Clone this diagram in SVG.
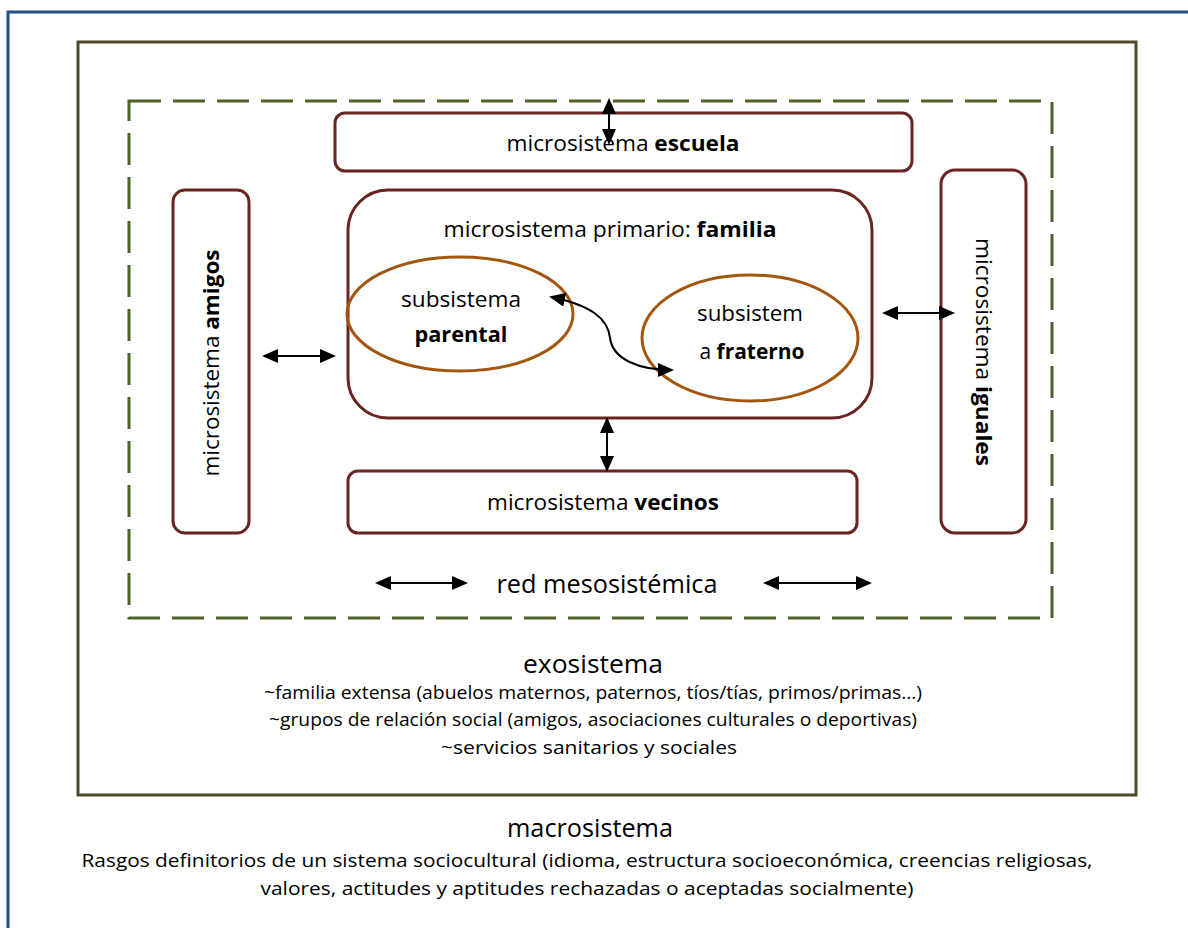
<svg xmlns="http://www.w3.org/2000/svg" width="1188" height="928" viewBox="0 0 1188 928">
  <defs>
    <marker id="head" viewBox="0 0 16 14" refX="14" refY="7" markerWidth="8" markerHeight="7" markerUnits="strokeWidth" orient="auto-start-reverse">
      <path d="M0 0 L16 7 L0 14 Z" fill="#000"/>
    </marker>
    <style>
      text { font-family: "Open Sans", "Liberation Sans", sans-serif; fill: #000; }
      .box { fill: #fff; stroke: #6b2424; stroke-width: 3; }
      .ell { fill: none; stroke: #a3560f; stroke-width: 3; }
      .arrow { fill: none; stroke: #000; stroke-width: 2; marker-start: url(#head); marker-end: url(#head); }
      .lbl { font-size: 21px; text-anchor: middle; }
      .big { font-size: 26px; text-anchor: middle; }
      .small { font-size: 19px; text-anchor: middle; }
      .b { font-weight: bold; }
    </style>
  </defs>

  <rect width="1188" height="928" fill="#fff"/>

  <!-- page frame -->
  <path d="M8 928 V12 H1188" fill="none" stroke="#1f4e85" stroke-width="3"/>

  <!-- exosystem frame -->
  <g id="exosistema">
    <rect x="78" y="42" width="1058" height="753" fill="none" stroke="#4d4a2c" stroke-width="3"/>
    <text class="big" x="593" y="673" textLength="140" lengthAdjust="spacingAndGlyphs">exosistema</text>
    <text class="small" x="593" y="699" textLength="658" lengthAdjust="spacingAndGlyphs">~familia extensa (abuelos maternos, paternos, tíos/tías, primos/primas…)</text>
    <text class="small" x="593" y="726" textLength="648" lengthAdjust="spacingAndGlyphs">~grupos de relación social (amigos, asociaciones culturales o deportivas)</text>
    <text class="small" x="589" y="754" textLength="296" lengthAdjust="spacingAndGlyphs">~servicios sanitarios y sociales</text>
  </g>

  <!-- mesosystem network -->
  <g id="mesosistema">
    <rect x="129" y="101" width="923" height="517" fill="none" stroke="#4f6228" stroke-width="3" stroke-dasharray="32 12"/>
    <text class="big" x="607" y="593" textLength="221" lengthAdjust="spacingAndGlyphs">red mesosistémica</text>
  </g>

  <g id="escuela">
    <rect class="box" x="335" y="113" width="577" height="58" rx="10"/>
    <text class="lbl" x="623" y="151" textLength="233" lengthAdjust="spacingAndGlyphs">microsistema <tspan class="b">escuela</tspan></text>
  </g>

  <g id="amigos">
    <rect class="box" x="173" y="190" width="76" height="343" rx="12"/>
    <text class="lbl" transform="translate(219 363) rotate(-90)" x="0" y="0" textLength="227" lengthAdjust="spacingAndGlyphs">microsistema <tspan class="b">amigos</tspan></text>
  </g>

  <g id="iguales">
    <rect class="box" x="941" y="170" width="85" height="363" rx="14"/>
    <text class="lbl" transform="translate(976 352) rotate(90)" x="0" y="0" textLength="228" lengthAdjust="spacingAndGlyphs">microsistema <tspan class="b">iguales</tspan></text>
  </g>

  <g id="familia">
    <rect class="box" x="348" y="190" width="524" height="228" rx="40"/>
    <text class="lbl" x="610" y="237" textLength="333" lengthAdjust="spacingAndGlyphs">microsistema primario: <tspan class="b">familia</tspan></text>
  </g>

  <g id="parental">
    <ellipse class="ell" cx="460" cy="314" rx="113" ry="57"/>
    <text class="lbl" x="461" y="307" textLength="120" lengthAdjust="spacingAndGlyphs">subsistema</text>
    <text class="lbl b" x="461" y="342" textLength="93" lengthAdjust="spacingAndGlyphs">parental</text>
  </g>

  <g id="fraterno">
    <ellipse class="ell" cx="750" cy="338" rx="108" ry="63"/>
    <text class="lbl" x="750" y="321" textLength="106" lengthAdjust="spacingAndGlyphs">subsistem</text>
    <text class="lbl" x="752" y="359" textLength="105" lengthAdjust="spacingAndGlyphs">a <tspan class="b">fraterno</tspan></text>
  </g>

  <g id="vecinos">
    <rect class="box" x="348" y="471" width="509" height="62" rx="10"/>
    <text class="lbl" x="603" y="510" textLength="232" lengthAdjust="spacingAndGlyphs">microsistema <tspan class="b">vecinos</tspan></text>
  </g>

  <!-- connectors -->
  <g id="connectors">
    <line class="arrow" x1="609" y1="100" x2="609" y2="143"/>
    <line class="arrow" x1="607" y1="419" x2="607" y2="470"/>
    <line class="arrow" x1="264" y1="356" x2="334" y2="356"/>
    <line class="arrow" x1="884" y1="313" x2="953" y2="313"/>
    <line class="arrow" x1="377" y1="583" x2="466" y2="583"/>
    <line class="arrow" x1="765" y1="583" x2="870" y2="583"/>
    <path class="arrow" d="M551 297 C590 305 608 318 610 338 C613 360 640 370 672 370"/>
  </g>

  <!-- macrosystem -->
  <g id="macrosistema">
    <text class="big" x="590" y="837" textLength="166" lengthAdjust="spacingAndGlyphs">macrosistema</text>
    <text class="small" x="587" y="867" textLength="1011" lengthAdjust="spacingAndGlyphs">Rasgos definitorios de un sistema sociocultural (idioma, estructura socioeconómica, creencias religiosas,</text>
    <text class="small" x="587" y="895" textLength="653" lengthAdjust="spacingAndGlyphs">valores, actitudes y aptitudes rechazadas o aceptadas socialmente)</text>
  </g>
</svg>
